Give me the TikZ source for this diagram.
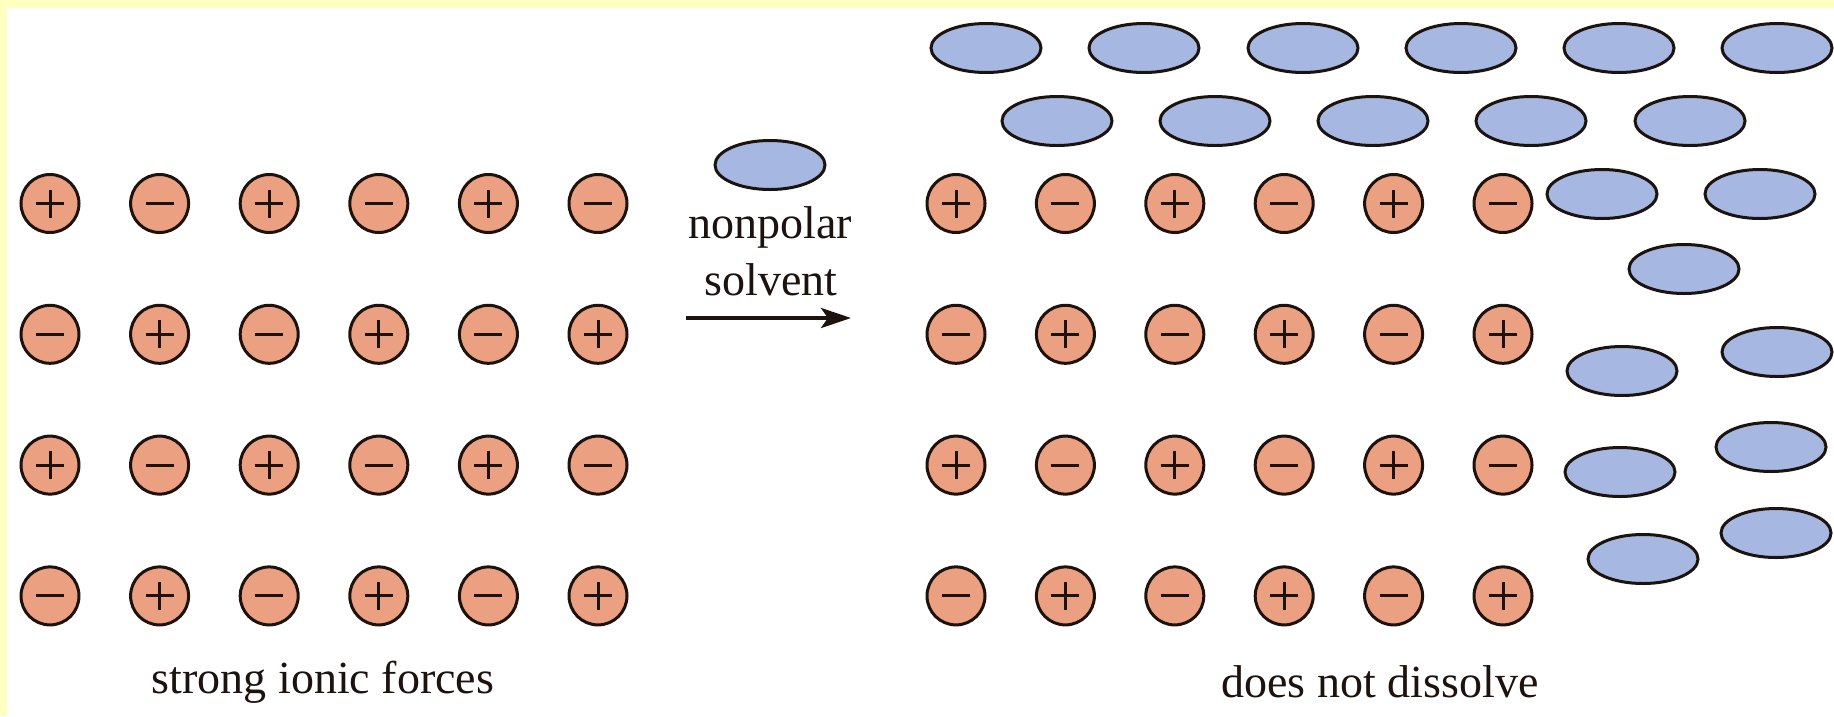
\documentclass[tikz,border=0pt]{standalone}
\usepackage{fontspec}
\setmainfont{Liberation Serif}
\usetikzlibrary{shapes.geometric,arrows.meta}
\definecolor{ionfill}{RGB}{236,160,130}
\definecolor{solvfill}{RGB}{166,184,226}
\definecolor{inkc}{RGB}{28,18,14}
\definecolor{framey}{RGB}{255,255,192}
\tikzset{
  ion/.style={circle, draw=inkc, fill=ionfill, line width=3pt, minimum size=58pt, inner sep=0pt},
  cation/.style={ion, path picture={
      \draw[inkc, line width=3pt]
        ([xshift=-14pt]path picture bounding box.center) -- ([xshift=14pt]path picture bounding box.center)
        ([yshift=-14pt]path picture bounding box.center) -- ([yshift=14pt]path picture bounding box.center);}},
  anion/.style={ion, path picture={
      \draw[inkc, line width=3pt]
        ([xshift=-14pt]path picture bounding box.center) -- ([xshift=14pt]path picture bounding box.center);}},
  solv/.style={ellipse, draw=inkc, fill=solvfill, line width=3pt, minimum width=110pt, minimum height=49pt, inner sep=0pt},
  lbl/.style={anchor=base, inner sep=0pt, text=inkc, font=\fontsize{46pt}{55pt}\selectfont},
  rxn/.style={inkc, line width=4pt, -{Stealth[length=30pt,width=20pt,inset=7pt]}}
}
\begin{document}
\begin{tikzpicture}[x=1pt,y=-1pt]
\useasboundingbox (0,0) rectangle (1834,716);
\fill[white] (0,0) rectangle (1834,716);
\fill[framey] (0,0) rectangle (1834,8);
\fill[framey] (0,0) rectangle (7,716);

% ionic lattices
\foreach \r in {1,...,4}{
  \foreach \c in {1,...,6}{
    \ifodd\numexpr\r+\c\relax \def\kind{anion}\else \def\kind{cation}\fi
    \node[\kind] (L-\r-\c) at ({50+109.6*(\c-1)}, {203.5+130.8*(\r-1)}) {};
    \node[\kind] (R-\r-\c) at ({956+109.4*(\c-1)}, {203.5+130.8*(\r-1)}) {};
  }
}

% solvent molecules
\foreach \x [count=\i] in {986,1144,1303,1461,1619,1777}
  \node[solv] (S1-\i) at (\x,48) {};
\foreach \x [count=\i] in {1057,1215,1373,1531,1690}
  \node[solv] (S2-\i) at (\x,121) {};
\foreach \x/\y [count=\i] in {1602/194,1760/194,1684/269,1622/371,1777/352,1620/472,1771/447,1643/559,1776/533}
  \node[solv] (S3-\i) at (\x,\y) {};

% legend molecule, label and arrow
\node[solv] (legend) at (770,165) {};
\node[lbl] (np) at (770,238) {nonpolar};
\node[lbl] (sv) at (771,295) {solvent};
\coordinate (a0) at (686,318);
\coordinate (a1) at (851,318);
\draw[rxn] (a0) -- (a1);

% captions
\node[lbl] (capL) at (323,693) {strong ionic forces};
\node[lbl] (capR) at (1380,697) {does not dissolve};
\end{tikzpicture}
\end{document}
